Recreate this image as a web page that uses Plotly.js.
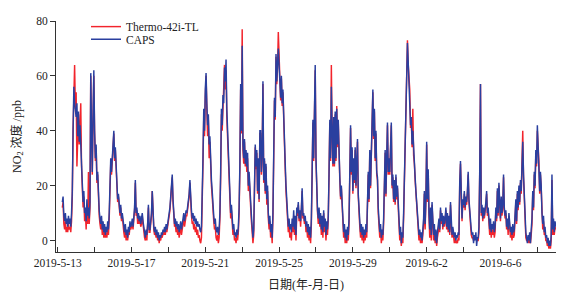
<!DOCTYPE html>
<html>
<head>
<meta charset="utf-8">
<script src="https://cdn.plot.ly/plotly-3.0.1.min.js"></script>
<style>
html,body{margin:0;padding:0;background:#fff;}
#chart{width:570px;height:298px;}
</style>
</head>
<body>
<div id="chart"></div>
<script>
// hourly samples starting at this time
const startTime = '2019-05-13 06:00';
const stepMs = 3600000;
const seriesNames = ['Thermo-42i-TL', 'CAPS'];

const thermoValues = [
  12,14,6,4,7,3,5,3,6,4,5,3,7,16,40,55,64,48,
  54,27,37,46,35,41,50,27,19,12,16,7,10,4,13,6,25,6,12,60,39,24,45,60,
  39,29,34,21,24,13,9,6,4,7,2,5,1,4,1,3,1,5,2,8,16,28,24,32,
  34,39,29,33,24,19,14,16,11,9,12,7,9,5,3,1,4,0,2,0,3,2,5,4,
  5,6,4,8,11,21,9,11,6,9,6,8,5,6,9,6,3,1,0,2,0,5,12,3,
  3,6,9,18,7,4,2,3,1,3,0,2,-1,1,0,2,1,3,2,4,2,5,3,6,
  7,9,11,15,19,23,14,9,5,6,3,5,2,4,1,3,5,2,4,6,8,5,7,9,
  9,11,13,16,21,12,9,6,7,4,6,3,5,2,4,1,2,0,-1,1,12,28,45,38,
  52,60,48,38,44,30,36,26,20,16,10,7,4,5,1,0,2,-1,1,8,23,46,40,51,
  52,64,55,62,45,37,27,19,12,8,11,6,2,4,0,1,-1,2,0,3,10,26,55,39,
  77,33,28,36,27,32,25,30,18,23,16,11,7,3,-1,2,19,34,26,32,17,29,14,39,
  39,24,31,57,21,29,17,27,13,18,8,4,7,1,4,-1,8,29,51,44,67,57,63,76,
  66,57,51,59,49,54,41,33,26,18,11,7,3,5,1,3,0,6,3,9,2,7,0,10,
  9,13,7,10,5,11,18,8,9,6,8,3,5,1,4,0,3,-1,6,24,43,29,49,62,
  29,17,10,6,11,5,8,2,8,1,10,3,6,0,5,2,8,24,43,29,64,39,27,44,
  27,46,29,49,34,43,27,22,15,19,13,5,1,4,-1,2,-1,3,0,6,19,41,24,33,
  17,29,21,33,19,27,36,16,8,5,1,4,0,3,-1,2,0,4,1,9,24,14,32,19,
  29,44,54,37,47,29,39,24,22,10,5,1,4,-1,2,0,6,19,32,16,27,42,24,29,
  24,34,42,19,23,14,21,13,23,15,19,12,4,0,3,-2,1,-1,8,24,39,54,65,73,
  64,57,55,41,44,34,48,31,28,22,17,13,9,3,0,2,-1,1,-1,2,6,17,4,14,
  35,14,25,9,1,11,0,13,3,0,4,-1,2,-2,1,3,7,3,11,6,9,4,8,5,
  7,11,4,9,3,8,2,13,5,1,4,1,-1,1,-1,0,-1,1,0,20,28,17,7,14,
  12,17,11,15,13,17,24,14,9,5,2,1,1,0,1,1,1,0,0,0,3,24,57,9,
  12,7,11,8,10,13,17,9,11,5,2,6,1,4,2,5,1,3,11,7,18,9,20,13,
  7,15,9,12,23,11,8,10,4,7,2,9,4,1,3,0,4,1,2,7,14,6,17,11,
  19,13,21,17,27,40,23,14,10,1,0,0,1,-1,1,-1,2,6,17,11,24,19,32,27,
  40,34,29,17,24,19,9,4,7,2,3,0,0,-2,-1,-3,-1,-3,0,22,2,6,2,5,4
];

const capsValues = [
  14,16,9,7,10,6,8,5,9,6,8,5,10,18,40,56,50,46,
  45,50,38,47,36,42,33,28,20,14,18,10,12,7,15,9,12,8,14,61,40,25,46,62,
  40,30,35,22,25,15,11,8,6,9,4,7,3,6,2,5,3,7,4,10,18,30,25,34,
  35,40,30,34,25,20,15,17,12,10,13,8,10,7,5,3,6,2,4,1,5,3,7,5,
  6,8,5,9,12,22,10,12,8,10,7,9,6,8,10,7,5,3,1,4,2,6,13,4,
  4,7,10,18,8,5,3,5,2,4,1,3,0,2,1,3,2,4,3,5,3,6,4,7,
  8,10,12,16,20,24,15,10,6,8,5,7,4,6,3,5,7,4,6,8,10,7,9,11,
  10,12,14,17,22,13,11,8,10,7,9,6,8,5,7,5,6,4,3,5,14,30,48,40,
  55,61,50,42,46,35,38,28,22,18,12,9,6,8,4,3,5,2,4,10,25,48,42,53,
  50,63,58,66,48,40,30,22,14,10,13,8,4,6,2,3,1,4,2,5,12,28,57,40,
  71,35,30,37,28,33,27,32,20,25,18,13,9,5,1,4,20,35,27,33,18,30,15,40,
  40,25,32,58,22,30,18,28,15,20,10,6,9,3,6,1,10,30,52,45,68,58,64,70,
  64,58,52,60,50,55,42,35,28,20,13,9,5,8,4,6,3,8,5,11,4,9,2,12,
  10,14,8,11,7,12,19,9,10,7,9,5,7,3,6,2,5,1,8,25,44,30,50,64,
  30,18,11,8,12,6,10,4,9,3,11,5,8,2,7,4,9,25,44,30,56,40,28,45,
  28,47,30,48,35,44,28,23,16,20,14,7,3,6,1,4,0,5,2,8,20,42,25,34,
  18,30,22,34,20,28,37,17,10,7,3,6,2,5,1,4,2,6,3,11,25,15,33,20,
  30,45,55,38,48,30,40,25,23,12,7,3,6,1,4,2,8,20,33,17,28,43,25,30,
  25,35,43,20,24,15,22,14,24,16,20,14,6,2,5,-1,3,1,10,25,40,55,66,72,
  65,58,50,42,45,35,40,32,29,23,18,14,11,5,2,4,1,3,0,4,8,18,6,15,
  36,15,26,10,4,12,2,14,5,2,6,0,4,-1,3,5,8,4,12,7,10,5,9,6,
  8,12,5,10,4,9,3,14,6,2,5,3,1,3,0,2,1,3,2,21,29,18,8,15,
  13,18,12,16,14,18,25,15,10,6,4,2,3,-1,2,0,3,-2,1,1,5,25,57,10,
  13,8,12,9,11,14,18,10,12,7,4,8,3,6,4,7,3,5,12,8,19,10,21,14,
  8,16,10,13,24,12,9,11,5,8,4,10,6,3,5,2,6,3,4,8,15,7,18,12,
  20,14,22,18,28,36,24,15,12,3,1,-1,2,0,3,-1,4,8,18,12,25,20,33,28,
  42,35,30,18,25,20,10,6,9,3,5,1,2,-1,1,-2,0,-2,2,24,4,8,3,7,5
];

const tickDates = ['2019-05-13','2019-05-17','2019-05-21','2019-05-25','2019-05-29','2019-06-02','2019-06-06'];
const tickLabels = ['2019-5-13','2019-5-17','2019-5-21','2019-5-25','2019-5-29','2019-6-2','2019-6-6'];
const minorTickDates = ['2019-05-15','2019-05-19','2019-05-23','2019-05-27','2019-05-31','2019-06-04','2019-06-08'];
const yTickVals = [0, 20, 40, 60, 80];

const fontFamily = '"Liberation Serif", "Times New Roman", "Noto Sans CJK SC", serif';
const axisColor = '#333';
const legendFont = {family: fontFamily, size: 11.5, color: '#222'};

const traces = [
  {
    type: 'scatter', mode: 'lines', name: seriesNames[0], legend: 'legend',
    x0: startTime, dx: stepMs, y: thermoValues,
    line: {color: '#f2242c', width: 1.45}
  },
  {
    type: 'scatter', mode: 'lines', name: seriesNames[1], legend: 'legend2',
    x0: startTime, dx: stepMs, y: capsValues,
    line: {color: '#2a3f9f', width: 1.45}
  }
];

const layout = {
  width: 570, height: 298,
  margin: {l: 56, r: 14, t: 16, b: 46},
  paper_bgcolor: '#fff', plot_bgcolor: '#fff',
  font: {family: fontFamily, size: 11.5, color: '#222'},
  showlegend: true,
  legend: {
    x: 0.06, y: 1.0385, xanchor: 'left', yanchor: 'top',
    bgcolor: 'rgba(0,0,0,0)', borderwidth: 0, font: legendFont
  },
  legend2: {
    x: 0.06, y: 0.9834, xanchor: 'left', yanchor: 'top',
    bgcolor: 'rgba(0,0,0,0)', borderwidth: 0, font: legendFont
  },
  xaxis: {
    type: 'date',
    range: ['2019-05-12 21:47', '2019-06-09 00:15'],
    tickmode: 'array', tickvals: tickDates, ticktext: tickLabels,
    ticks: 'inside', ticklen: 5, tickwidth: 1, tickcolor: axisColor,
    minor: {tickmode: 'array', tickvals: minorTickDates, ticks: 'inside', ticklen: 5, tickwidth: 1, tickcolor: axisColor, showgrid: false},
    showline: true, linecolor: axisColor, linewidth: 1,
    showgrid: false, zeroline: false,
    tickfont: {family: fontFamily, size: 11.5, color: '#222'},
    title: {text: '日期(年-月-日)', font: {family: fontFamily, size: 12, color: '#222'}, standoff: 12}
  },
  yaxis: {
    range: [-4.2, 80],
    tickmode: 'array', tickvals: yTickVals,
    ticks: 'outside', ticklen: 5, tickwidth: 1, tickcolor: axisColor,
    showline: true, linecolor: axisColor, linewidth: 1,
    showgrid: false, zeroline: false,
    tickfont: {family: fontFamily, size: 11.5, color: '#222'},
    title: {text: 'NO<sub>2</sub> 浓度 /ppb', font: {family: fontFamily, size: 12, color: '#222'}, standoff: 12}
  }
};

Plotly.newPlot('chart', traces, layout, {displayModeBar: false, staticPlot: true});
</script>
</body>
</html>
